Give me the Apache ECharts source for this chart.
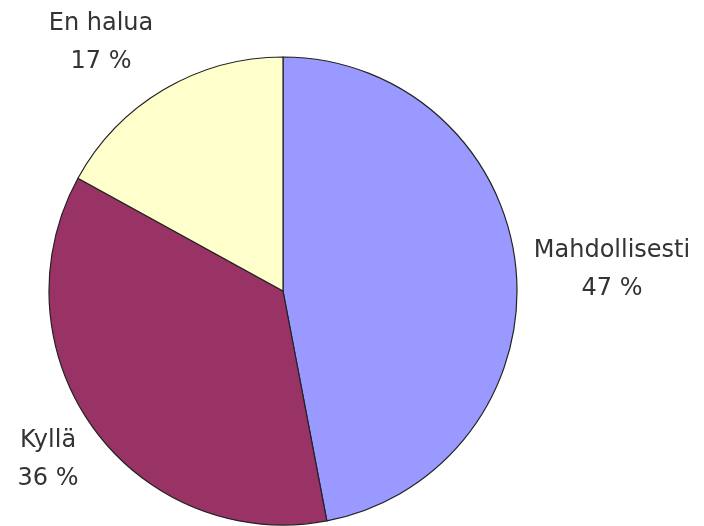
<!DOCTYPE html>
<html>
<head>
<meta charset="utf-8">
<script src="https://cdn.jsdelivr.net/npm/echarts@6/dist/echarts.min.js"></script>
<style>
html,body{margin:0;padding:0;background:#fff;}
#chart{width:704px;height:526px;}
</style>
</head>
<body>
<div id="chart"></div>
<script>
const categories = ['Mahdollisesti', 'Kyllä', 'En halua'];
const values = [47, 36, 17];
const colors = ['#9999FF', '#993366', '#FFFFCC'];

const labelPos = [
  { x: 612, y: 270 },
  { x: 48, y: 460 },
  { x: 101, y: 43 }
];

const chart = echarts.init(document.getElementById('chart'), null, { renderer: 'canvas' });
chart.setOption({
  backgroundColor: '#ffffff',
  animation: false,
  series: [{
    type: 'pie',
    center: [283, 291],
    radius: 234,
    startAngle: 90,
    clockwise: true,
    avoidLabelOverlap: false,
    data: categories.map((c, i) => ({ name: c, value: values[i], itemStyle: { color: colors[i] } })),
    itemStyle: { borderColor: '#222', borderWidth: 1.2 },
    label: {
      show: true,
      position: 'outside',
      alignTo: 'none',
      overflow: 'none',
      formatter: '{b}\n{c} %',
      fontFamily: 'DejaVu Sans',
      fontSize: 24,
      lineHeight: 38,
      color: '#333',
      align: 'center'
    },
    labelLine: { show: false },
    labelLayout: function (params) {
      const p = labelPos[params.dataIndex];
      return { x: p.x, y: p.y, align: 'center', verticalAlign: 'middle', hideOverlap: false, moveOverlap: false };
    },
    emphasis: { disabled: true }
  }]
});
</script>
</body>
</html>
